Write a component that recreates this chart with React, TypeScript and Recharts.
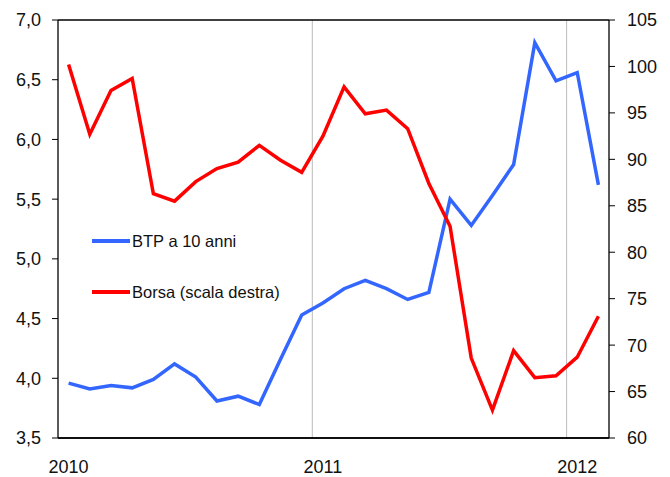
import React from 'react'
import { LineChart, Line, XAxis, YAxis, ReferenceLine } from 'recharts'

// months Jan 2010 .. Feb 2012
const months = [
  '2010-01', '2010-02', '2010-03', '2010-04', '2010-05', '2010-06',
  '2010-07', '2010-08', '2010-09', '2010-10', '2010-11', '2010-12',
  '2011-01', '2011-02', '2011-03', '2011-04', '2011-05', '2011-06',
  '2011-07', '2011-08', '2011-09', '2011-10', '2011-11', '2011-12',
  '2012-01', '2012-02',
]

const btp = [
  3.96, 3.91, 3.94, 3.92, 3.99, 4.12, 4.01, 3.81, 3.85, 3.78, 4.16, 4.53,
  4.63, 4.75, 4.82, 4.75, 4.66, 4.72, 5.50, 5.28, 5.53, 5.79, 6.81, 6.49,
  6.56, 5.62,
]

const borsa = [
  100.2, 92.7, 97.4, 98.7, 86.3, 85.5, 87.6, 89.0, 89.7, 91.5, 89.9, 88.6,
  92.5, 97.8, 94.9, 95.3, 93.3, 87.4, 82.8, 68.6, 63.0, 69.4, 66.5, 66.7,
  68.7, 73.1,
]

const yearTicks = [0, 12, 24]
const yearLabels = ['2010', '2011', '2012']
const leftTicks = [3.5, 4.0, 4.5, 5.0, 5.5, 6.0, 6.5, 7.0]
const rightTicks = [60, 65, 70, 75, 80, 85, 90, 95, 100, 105]

const series = [
  { key: 'btp', name: 'BTP a 10 anni', color: '#3366FF' },
  { key: 'borsa', name: 'Borsa (scala destra)', color: '#FF0000' },
]

const data = months.map((m, i) => ({ m, x: i + 0.5, btp: btp[i], borsa: borsa[i] }))

const FONT = '"Liberation Sans", Arial, sans-serif'

export default function App() {
  return (
    <div style={{ position: 'absolute', left: 0, top: 0, width: 670, height: 477, background: '#fff' }}>
      <LineChart width={670} height={477} data={data} margin={{ top: 20, right: 0, left: 0, bottom: 0 }}>
        <XAxis
          xAxisId="a"
          dataKey="x"
          type="number"
          domain={[0, 26]}
          ticks={yearTicks}
          tick={false}
          tickSize={6}
          height={1}
          axisLine={{ stroke: '#000', strokeWidth: 1.3 }}
          tickLine={{ stroke: '#000' }}
        />
        <XAxis
          xAxisId="b"
          dataKey="x"
          type="number"
          domain={[0, 26]}
          ticks={yearTicks.map(t => t + 0.5)}
          tickFormatter={(v: number) => yearLabels[yearTicks.indexOf(v - 0.5)] ?? ''}
          axisLine={false}
          tickLine={false}
          tickSize={0}
          tickMargin={21}
          height={38}
          tick={{ fontSize: 18, fill: '#111', fontFamily: FONT }}
        />
        <YAxis
          yAxisId="left"
          domain={[3.5, 7]}
          ticks={leftTicks}
          tickFormatter={(v: number) => v.toFixed(1).replace('.', ',')}
          width={58}
          tickSize={6}
          tickMargin={11}
          axisLine={{ stroke: '#000', strokeWidth: 1.3 }}
          tickLine={{ stroke: '#000' }}
          tick={{ fontSize: 18, fill: '#111', fontFamily: FONT }}
        />
        <YAxis
          yAxisId="right"
          orientation="right"
          domain={[60, 105]}
          ticks={rightTicks}
          width={61}
          tickSize={6}
          tickMargin={12}
          axisLine={{ stroke: '#000', strokeWidth: 1.3 }}
          tickLine={{ stroke: '#000' }}
          tick={{ fontSize: 18, fill: '#111', fontFamily: FONT, textAnchor: 'start' }}
        />
        <ReferenceLine xAxisId="b" yAxisId="left" x={12} stroke="#BBBBBB" />
        <ReferenceLine xAxisId="b" yAxisId="left" x={24} stroke="#BBBBBB" />
        <ReferenceLine xAxisId="b" yAxisId="left" y={7} stroke="#000" strokeWidth={1.3} />
        <ReferenceLine xAxisId="b" yAxisId="left" y={3.5} stroke="#000" strokeWidth={1.3} />
        {series.map(s => (
          <Line
            key={s.key}
            xAxisId="b"
            yAxisId={s.key === 'btp' ? 'left' : 'right'}
            dataKey={s.key}
            name={s.name}
            stroke={s.color}
            strokeWidth={3.5}
            dot={false}
            isAnimationActive={false}
          />
        ))}
      </LineChart>
      <div style={{ position: 'absolute', left: 92, top: 231, fontFamily: FONT, fontSize: 16.5, color: '#111' }}>
        {series.map((s, i) => (
          <div key={s.key} style={{ display: 'flex', alignItems: 'center', height: 20, marginBottom: i === 0 ? 31 : 0 }}>
            <span style={{ display: 'inline-block', width: 38, height: 3.5, background: s.color, marginRight: 2 }} />
            <span>{s.name}</span>
          </div>
        ))}
      </div>
    </div>
  )
}
